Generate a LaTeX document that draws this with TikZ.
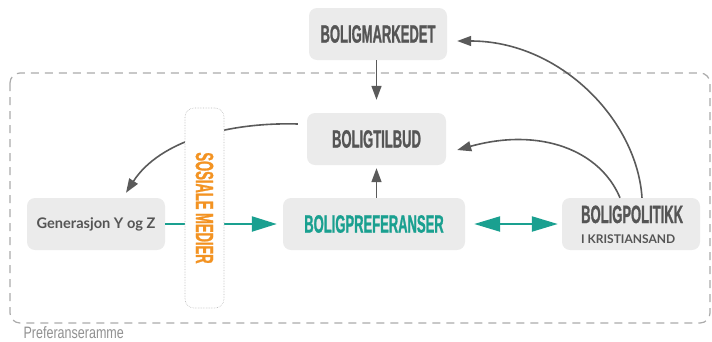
\documentclass[tikz,border=0pt]{standalone}
\usepackage{fontspec}
\usetikzlibrary{arrows.meta}
\setmainfont{Lato}
\newfontfamily\headfont[FakeStretch=0.52,FakeBold=1]{Liberation Sans}
\newfontfamily\framefont[FakeStretch=0.76]{Liberation Sans}
\newfontfamily\latofont{Lato}
\definecolor{boxfill}{HTML}{EBEBEB}
\definecolor{darktext}{HTML}{555555}
\definecolor{arrowgray}{HTML}{5A5A5A}
\definecolor{tealc}{HTML}{1AA090}
\definecolor{orangec}{HTML}{F39322}
\definecolor{framegray}{HTML}{ABABAB}
\begin{document}
\begin{tikzpicture}[x=1pt,y=-1pt,
  box/.style={fill=boxfill,rounded corners=8pt,inner sep=0pt,minimum height=52pt},
  headtxt/.style={font=\headfont\bfseries\fontsize{25}{27}\selectfont,text=darktext},
  grayarrow/.style={draw=arrowgray,line width=1.6pt,-{Triangle[length=14pt,width=10pt]}},
  tealarrow/.style={draw=tealc,line width=2.2pt,-{Triangle[length=25pt,width=15pt]}},
  tealdouble/.style={draw=tealc,line width=2.2pt,{Triangle[length=26pt,width=15pt]}-{Triangle[length=26pt,width=15pt]}},
  mediabox/.style={fill=white,draw=framegray!80,densely dotted,line width=0.6pt,rounded corners=9pt,inner sep=0pt}]
\useasboundingbox (0,0) rectangle (712,341);

% outer frame of preferences
\draw[framegray,line width=1.2pt,dash pattern=on 8pt off 6pt,rounded corners=10pt]
  (10,73) rectangle (710,323);
\node[anchor=base west,font=\framefont\fontsize{16.5}{18}\selectfont,text=framegray!85!black] (frametitle) at (20,338) {Preferanseramme};

% boxes
\node[box,minimum width=138pt,headtxt] (mk) at (378,34) {BOLIGMARKEDET};
\node[box,minimum width=139pt,headtxt] (tb) at (376.5,139) {BOLIGTILBUD};
\node[box,minimum width=182pt,headtxt,text=tealc] (pref) at (374,224) {BOLIGPREFERANSER};
\node[box,minimum width=138pt,font=\latofont\bfseries\fontsize{14.6}{16}\selectfont,text=darktext] (gen) at (96,224) {Generasjon Y og Z};
\node[box,minimum width=138pt] (pol) at (631,224) {};
\node[headtxt,anchor=base west,inner sep=0pt] (poltitle) at (581,223) {BOLIGPOLITIKK};
\node[anchor=base west,inner sep=0pt,font=\latofont\bfseries\fontsize{12}{14}\selectfont,text=darktext] (polsub) at (581,243) {I KRISTIANSAND};

% connectors
\draw[grayarrow,shorten >=13pt] (mk.south -| tb.north) -- (tb.north);
\draw[grayarrow,shorten >=3pt] (pref.north -| tb.south) -- (tb.south);
\draw[grayarrow] ([xshift=11pt]pol.north) .. controls (637,120) and (560,41) .. ([xshift=10pt,yshift=-7pt]mk.east);
\draw[grayarrow] ([xshift=-11pt]pol.north) .. controls (600,150) and (540,127) .. ([xshift=11pt,yshift=-11pt]tb.east);
\draw[grayarrow] ([xshift=-9pt,yshift=15pt]tb.west) .. controls (230,122) and (160,140) .. ([xshift=30pt,yshift=5pt]gen.north);
\draw[tealarrow,shorten >=6pt] (gen.east) -- (pref.west);
\draw[tealdouble,shorten <=9pt,shorten >=4pt] (pref.east) -- (pol.west);

% social media column laid over the flows
\node[mediabox,minimum width=39pt,minimum height=200pt] (som) at (204.5,208) {};
\node[headtxt,text=orangec,rotate=-90,inner sep=0pt] (somtxt) at (som.center) {SOSIALE MEDIER};
\end{tikzpicture}
\end{document}
